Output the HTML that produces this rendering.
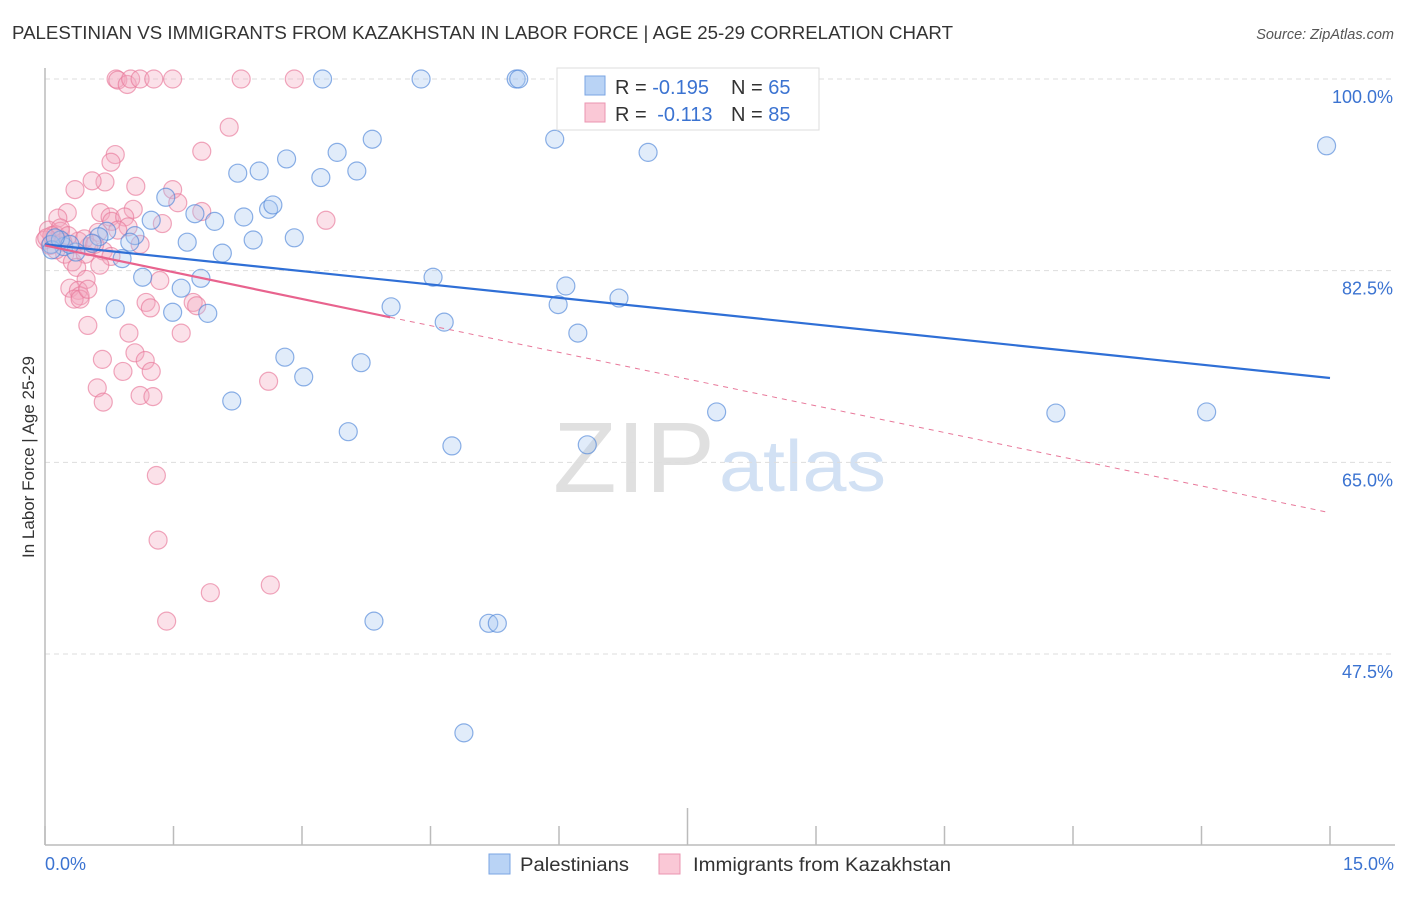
<!DOCTYPE html>
<html><head><meta charset="utf-8"><style>
body{margin:0;background:#fff;font-family:"Liberation Sans",sans-serif;}
svg text{font-family:"Liberation Sans",sans-serif;}
</style></head><body>
<svg id="chart" width="1406" height="892" xmlns="http://www.w3.org/2000/svg">
<text x="12" y="39" font-size="18" fill="#333" textLength="941" lengthAdjust="spacingAndGlyphs">PALESTINIAN VS IMMIGRANTS FROM KAZAKHSTAN IN LABOR FORCE | AGE 25-29 CORRELATION CHART</text>
<text x="1394" y="39" font-size="14.5" fill="#555" font-style="italic" text-anchor="end">Source: ZipAtlas.com</text>
<g>
<text x="553" y="492" font-size="100" fill="#e0e0e0" font-family="Liberation Serif" textLength="162" lengthAdjust="spacingAndGlyphs">ZIP</text>
<text x="719" y="491" font-size="72" fill="#d2e1f4" textLength="167" lengthAdjust="spacingAndGlyphs">atlas</text>
</g>
<g id="grid"></g><g id="axes"></g><g id="marks"></g><g id="trends"></g>
<text transform="translate(34,457) rotate(-90)" font-size="17" fill="#333" text-anchor="middle">In Labor Force | Age 25-29</text>
<text x="45" y="870" font-size="18" fill="#3b73d1">0.0%</text>
<text x="1394" y="870" font-size="18" fill="#3b73d1" text-anchor="end">15.0%</text>
<g>
<rect x="557" y="68" width="262" height="62" fill="#fff" stroke="#ddd"/>
<rect x="585" y="76" width="20" height="19" fill="#b9d3f5" stroke="#7aa5e3"/>
<rect x="585" y="103" width="20" height="19" fill="#fac8d6" stroke="#eb94b0"/>
<text x="615" y="94" font-size="20" fill="#333">R = <tspan fill="#3b73d1">-0.195</tspan><tspan x="731">N = </tspan><tspan fill="#3b73d1">65</tspan></text>
<text x="615" y="121" font-size="20" fill="#333">R = <tspan fill="#3b73d1" dx="5">-0.113</tspan><tspan x="731">N = </tspan><tspan fill="#3b73d1">85</tspan></text>
</g>
<g>
<rect x="489" y="854" width="21" height="20" fill="#b9d3f5" stroke="#7aa5e3"/>
<text x="520" y="871" font-size="19" fill="#333" textLength="109" lengthAdjust="spacingAndGlyphs">Palestinians</text>
<rect x="659" y="854" width="21" height="20" fill="#fac8d6" stroke="#eb94b0"/>
<text x="693" y="871" font-size="19" fill="#333" textLength="258" lengthAdjust="spacingAndGlyphs">Immigrants from Kazakhstan</text>
</g>
</svg>
<script>
const yTicks=[100,82.5,65,47.5];
const yTickLabels=["100.0%","82.5%","65.0%","47.5%"];
const xTicks=[0,1.5,3,4.5,6,7.5,9,10.5,12,13.5,15];
const blueX=[3.24,4.39,5.50,5.53,14.96,3.82,5.95,7.04,3.41,2.82,2.25,2.50,3.22,3.64,1.41,1.75,1.98,2.32,2.61,2.66,1.24,0.72,1.05,0.63,0.99,1.66,2.43,2.91,0.22,0.55,0.90,2.07,0.36,0.07,4.53,6.08,1.14,1.59,1.82,4.04,5.99,6.70,0.82,1.49,1.90,4.66,6.22,2.80,3.69,3.02,2.18,7.84,11.80,13.56,3.54,4.75,6.33,3.84,5.18,5.28,4.89,0.08,0.18,0.29,0.12];
const blueY=[100,100,100,100,93.9,94.5,94.5,93.3,93.3,92.7,91.4,91.6,91.0,91.6,89.2,87.7,87.0,87.4,88.1,88.5,87.1,86.1,85.7,85.6,85.1,85.1,85.3,85.5,84.7,85.0,83.6,84.1,84.2,84.9,81.9,81.1,81.9,80.9,81.8,79.2,79.4,80.0,79.0,78.7,78.6,77.8,76.8,74.6,74.1,72.8,70.6,69.6,69.5,69.6,67.8,66.5,66.6,50.5,50.3,50.3,40.3,84.4,85.3,84.9,85.5];
const pinkX=[0.83,0.85,0.96,1.00,1.11,1.27,1.49,2.29,2.91,2.15,1.83,0.82,0.77,1.49,1.55,1.06,0.70,0.55,0.35,3.28,1.03,0.26,0.15,0.65,0.76,0.78,0.93,0.97,0.62,1.37,1.83,0.04,0.12,0.00,0.18,0.06,0.23,0.32,0.47,0.51,0.39,0.68,0.77,0.37,0.29,0.48,0.39,0.41,0.34,0.50,1.34,1.18,1.23,1.73,1.77,1.59,0.98,1.05,1.17,0.67,1.24,0.91,2.61,0.61,1.11,1.26,0.68,1.30,1.32,1.93,2.63,1.42,0.18,0.08,0.02,0.21,0.13,0.27,0.46,0.58,0.85,1.11,0.64,0.41,0.50];
const pinkY=[100,99.9,99.5,100,100,100,100,100,100,95.6,93.4,93.1,92.4,89.9,88.7,90.2,90.6,90.7,89.9,87.1,88.1,87.8,87.3,87.8,87.4,87.0,87.4,86.5,86.0,86.8,87.9,86.2,85.8,85.3,86.1,84.8,84.0,83.3,84.0,84.7,85.2,84.3,83.8,82.8,80.9,81.7,80.7,80.2,79.9,77.5,81.6,79.6,79.1,79.6,79.3,76.8,76.8,75.0,74.3,74.4,73.3,73.3,72.4,71.8,71.1,71.0,70.5,63.8,57.9,53.1,53.8,50.5,86.4,85.7,85.5,85.1,84.4,85.7,85.4,84.9,86.2,84.9,83.0,79.9,80.8];
const blueTrend=[84.9,72.7];
const pinkTrend=[84.8,60.4];
const pinkSolidEnd=4.03;

const NS="http://www.w3.org/2000/svg";
function sx(v){return 45+v*(1330-45)/15;}
function sy(v){return 79+(100-v)*(654-79)/52.5;}
function mk(tag,attrs,parent){const e=document.createElementNS(NS,tag);for(const k in attrs)e.setAttribute(k,attrs[k]);parent.appendChild(e);return e;}
const grid=document.getElementById('grid'),axes=document.getElementById('axes'),marks=document.getElementById('marks'),trends=document.getElementById('trends');
yTicks.forEach((t,i)=>{
  const l=mk('line',{x1:45,x2:1395,y1:sy(t),y2:sy(t),stroke:'#ddd','stroke-dasharray':'5,4'},grid);
  
  
  const tx=mk('text',{x:1393,y:sy(t)+24,'font-size':18,fill:'#3b73d1','text-anchor':'end'},grid);
  tx.textContent=yTickLabels[i];
  
  
});
const ya=mk('line',{x1:45,x2:45,y1:68,y2:845,stroke:'#bbb','stroke-width':1.5},axes);


const xa=mk('line',{x1:45,x2:1395,y1:845,y2:845,stroke:'#bbb','stroke-width':1.5},axes);


xTicks.forEach((t,i)=>{
  const top=(i===5)?808:826;
  const tk=mk('line',{x1:sx(t),x2:sx(t),y1:top,y2:845,stroke:'#bbb','stroke-width':1.5},axes);
  
  
});
function pts(X,Y,fill,stroke,name){
  X.forEach((x,i)=>{
    const c=mk('circle',{cx:sx(x),cy:sy(Y[i]),r:9,fill:fill,'fill-opacity':0.35,stroke:stroke,'stroke-opacity':0.65,'stroke-width':1.2},marks);
    
    
  });
}
pts(pinkX,pinkY,'#f4a9c0','#e8789a','kazakhstan-point');
pts(blueX,blueY,'#a8c8f0','#4f86d8','palestinian-point');
const bl=mk('line',{x1:sx(0),y1:sy(blueTrend[0]),x2:sx(15),y2:sy(blueTrend[1]),stroke:'#2f6fd6','stroke-width':2.2},trends);


const pm=pinkTrend[0]+(pinkTrend[1]-pinkTrend[0])*pinkSolidEnd/15;
const ps=mk('line',{x1:sx(0),y1:sy(pinkTrend[0]),x2:sx(pinkSolidEnd),y2:sy(pm),stroke:'#e8638e','stroke-width':2.2},trends);


const pd=mk('line',{x1:sx(pinkSolidEnd),y1:sy(pm),x2:sx(15),y2:sy(pinkTrend[1]),stroke:'#e8789a','stroke-width':1,'stroke-dasharray':'5,5'},trends);


</script>
</body></html>
